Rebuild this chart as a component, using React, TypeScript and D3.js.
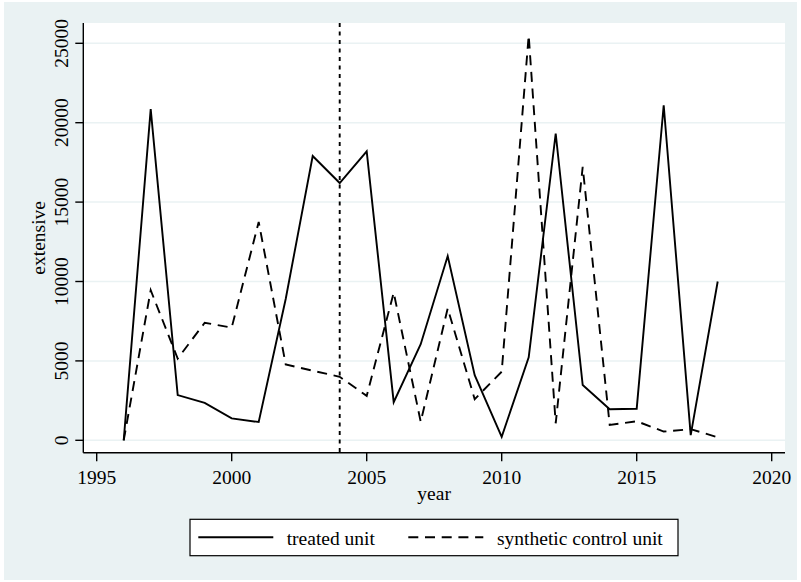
import React from "react";
import * as d3 from "d3";

const years = [1996, 1997, 1998, 1999, 2000, 2001, 2002, 2003, 2004, 2005, 2006, 2007, 2008, 2009, 2010, 2011, 2012, 2013, 2014, 2015, 2016, 2017, 2018];
const treated = [0, 20850, 2850, 2360, 1380, 1150, 8900, 17900, 16200, 18200, 2400, 6050, 11600, 4100, 220, 5220, 19320, 3480, 1960, 1990, 21100, 330, 10000];
const synthetic = [0, 9450, 5150, 7400, 7100, 13750, 4780, 4380, 4000, 2800, 9300, 1170, 8310, 2590, 4320, 25500, 1070, 17220, 970, 1200, 550, 700, 190];
const xTicks = [1995, 2000, 2005, 2010, 2015, 2020];
const yTicks = [0, 5000, 10000, 15000, 20000, 25000];
const treatYear = 2004;
const yTitle = "extensive";
const xTitle = "year";
const legendLabels = ["treated unit", "synthetic control unit"];

const W = 801;
const H = 582;
const plotL = 83.3, plotR = 785, plotT = 23, plotB = 452.7;
const bg = "#EAF2F3";
const font = "Liberation Serif, Times New Roman, Times, DejaVu Serif, serif";
const fs = 19.5;

export default function App() {
  const x = d3.scaleLinear().domain([1995, 2020]).range([96.7, 771.7]);
  const y = d3.scaleLinear().domain([0, 25000]).range([440.3, 43.3]);
  const line = d3.line<number>().x((_, i) => x(years[i])).y((d) => y(d));
  const ts: React.CSSProperties = { fontFamily: font, fontSize: fs };

  return (
    <svg width={W} height={H} style={{ position: "absolute", left: 0, top: 0, fontFamily: font }}>
      <rect x={0} y={0} width={W} height={H} fill="#ffffff" />
      <rect x={4} y={2} width={793} height={578} fill={bg} />
      <rect x={plotL} y={plotT} width={plotR - plotL} height={plotB - plotT} fill="#ffffff" />
      {yTicks.map((t) => (
        <line key={"g" + t} x1={plotL} x2={plotR} y1={y(t)} y2={y(t)} stroke={bg} strokeWidth={1.5} />
      ))}
      <line x1={x(treatYear)} x2={x(treatYear)} y1={plotT} y2={plotB} stroke="#000" strokeWidth={1.9} strokeDasharray="4,4.5" />
      <path d={line(synthetic) || ""} fill="none" stroke="#000" strokeWidth={1.9} strokeDasharray="10,6.7" />
      <path d={line(treated) || ""} fill="none" stroke="#000" strokeWidth={1.9} />
      <line x1={plotL} x2={plotL} y1={plotT} y2={plotB} stroke="#000" strokeWidth={1.4} />
      <line x1={plotL} x2={plotR} y1={plotB} y2={plotB} stroke="#000" strokeWidth={1.4} />
      {yTicks.map((t) => (
        <g key={"y" + t}>
          <line x1={plotL - 8} x2={plotL} y1={y(t)} y2={y(t)} stroke="#000" strokeWidth={1.4} />
          <text transform={`translate(68.3,${y(t)}) rotate(-90)`} textAnchor="middle" style={ts} fill="#000">
            {t}
          </text>
        </g>
      ))}
      {xTicks.map((t) => (
        <g key={"x" + t}>
          <line x1={x(t)} x2={x(t)} y1={plotB} y2={plotB + 8.5} stroke="#000" strokeWidth={1.4} />
          <text x={x(t)} y={484} textAnchor="middle" style={ts} fill="#000">
            {t}
          </text>
        </g>
      ))}
      <text transform={`translate(45,${(plotT + plotB) / 2}) rotate(-90)`} textAnchor="middle" style={ts} fill="#000">
        {yTitle}
      </text>
      <text x={(plotL + plotR) / 2} y={500} textAnchor="middle" style={ts} fill="#000">
        {xTitle}
      </text>
      <rect x={190} y={519.3} width={488} height={36.4} fill="#fff" stroke="#000" strokeWidth={1.2} />
      <line x1={198.3} x2={273.3} y1={537.3} y2={537.3} stroke="#000" strokeWidth={1.9} />
      <text x={286.7} y={545} style={ts} fill="#000">{legendLabels[0]}</text>
      <line x1={408.3} x2={483.3} y1={537.3} y2={537.3} stroke="#000" strokeWidth={1.9} strokeDasharray="10,6.7" />
      <text x={497} y={545} style={ts} fill="#000">{legendLabels[1]}</text>
    </svg>
  );
}
